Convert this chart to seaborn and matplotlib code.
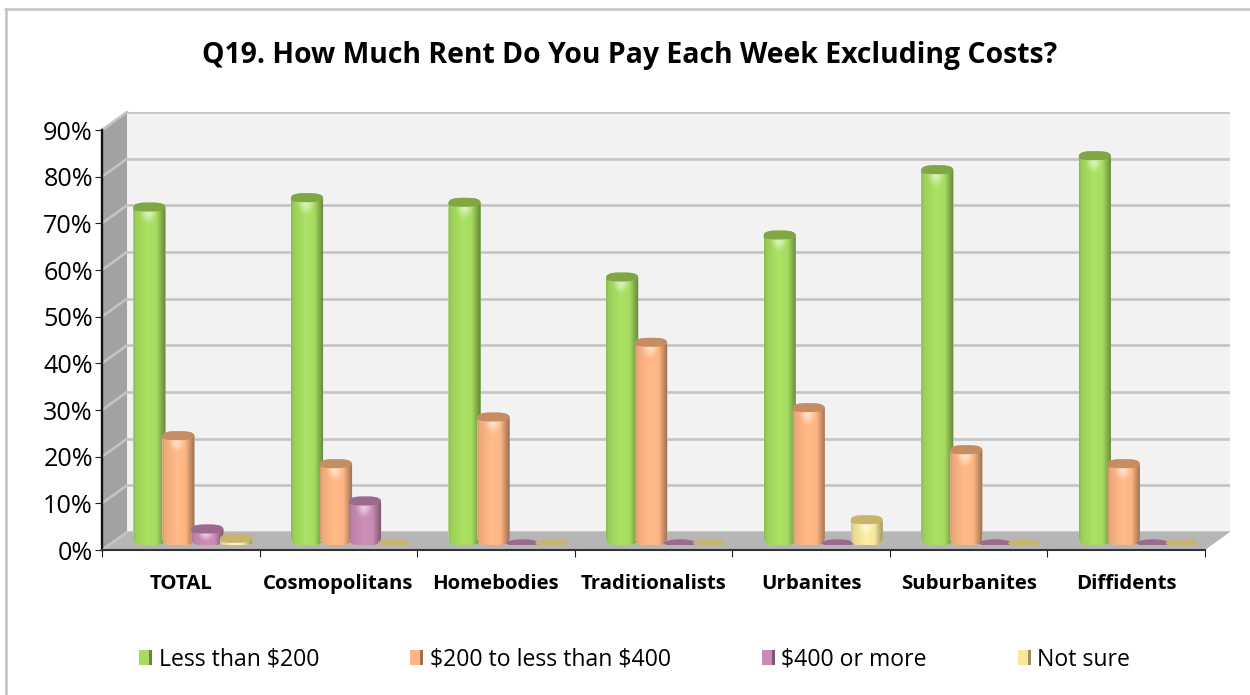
import numpy as np
import pandas as pd
import matplotlib
matplotlib.use("Agg")
import matplotlib.pyplot as plt
import seaborn as sns
from matplotlib.colors import to_rgb
from matplotlib.lines import Line2D
from matplotlib.patches import Polygon, PathPatch, Rectangle
from matplotlib.path import Path
from matplotlib.legend_handler import HandlerPatch

categories = ["TOTAL", "Cosmopolitans", "Homebodies", "Traditionalists", "Urbanites", "Suburbanites", "Diffidents"]
series_names = ["Less than $200", "$200 to less than $400", "$400 or more", "Not sure"]
less_200 = [72, 74, 73, 57, 66, 80, 83]
from_200_to_400 = [23, 17, 27, 43, 29, 20, 17]
over_400 = [3, 9, 0, 0, 0, 0, 0]
not_sure = [1, 0, 0, 0, 5, 0, 0]
colors = ["#A6DC60", "#FDB583", "#C98BB3", "#F8E79C"]
cap_colors = ["#7FA845", "#C68C62", "#9C6A8E", "#C9B46C"]
y_ticks = [0, 10, 20, 30, 40, 50, 60, 70, 80, 90]

W, H = 1250, 695
sns.set_theme(style="white")
plt.rcParams["font.family"] = ["Open Sans", "DejaVu Sans"]
plt.rcParams["text.parse_math"] = False
fig = plt.figure(figsize=(W / 100, H / 100), dpi=100, facecolor="white")


def box(x0, x1, ytop, ybot):
    return [x0 / W, 1 - ybot / H, (x1 - x0) / W, (ybot - ytop) / H]


def pxy(x, y):
    return (x / W, 1 - y / H)


# back wall
ax_back = fig.add_axes(box(127, 1230, 112, 532), zorder=0)
ax_back.set_facecolor("#F2F2F2")
ax_back.set_ylim(0, 90)
ax_back.set_xlim(0, 1)
ax_back.set_xticks([])
ax_back.set_yticks(y_ticks)
ax_back.set_yticklabels([])
ax_back.tick_params(left=False)
ax_back.grid(axis="y", color="#C4C4C4", lw=1.9)
for s in ax_back.spines.values():
    s.set_visible(False)

tf = fig.transFigure
ax_back.add_patch(Polygon([pxy(102, 130), pxy(127, 112), pxy(127, 532), pxy(102, 550)], closed=True,
                          transform=tf, fc="#A2A2A2", ec="none", clip_on=False, zorder=3))
ax_back.add_patch(Polygon([pxy(102, 550), pxy(127, 532), pxy(1230, 532), pxy(1205, 550)], closed=True,
                          transform=tf, fc="#B6B6B6", ec="none", clip_on=False, zorder=3))
for t in y_ticks:
    yf = 550 - t * 420 / 90
    ax_back.add_line(Line2D([102 / W, 127 / W], [1 - yf / H, 1 - (yf - 18) / H], transform=tf,
                            color="#C4C4C4", lw=1.9, clip_on=False, zorder=4))

# front axis: ticks and labels
ax_front = fig.add_axes(box(102, 1205, 130, 550), zorder=1)
ax_front.patch.set_alpha(0)
ax_front.set_xlim(-0.5, 6.5)
ax_front.set_ylim(0, 90)
ax_front.set_yticks(y_ticks)
ax_front.set_yticklabels([f"{t}%" for t in y_ticks], fontsize=18.2, color="black")
ax_front.set_xticks(range(len(categories)))
ax_front.set_xticklabels(categories, fontsize=14.7, fontweight="bold", color="black")
ax_front.set_xticks(np.arange(-0.5, 7, 1), minor=True)
ax_front.tick_params(axis="x", which="major", length=0, pad=17.5)
ax_front.tick_params(axis="x", which="minor", length=5, width=0.8, color="#222222", bottom=True)
ax_front.tick_params(axis="y", length=5, width=0.8, color="#222222", left=True, pad=1.5)
for side in ("top", "right"):
    ax_front.spines[side].set_visible(False)
ax_front.spines["left"].set_color("#111111")
ax_front.spines["left"].set_linewidth(1.7)
ax_front.spines["bottom"].set_color("#333333")
ax_front.spines["bottom"].set_linewidth(1.5)

# bars
df = pd.DataFrame({"category": categories, series_names[0]: less_200, series_names[1]: from_200_to_400,
                   series_names[2]: over_400, series_names[3]: not_sure})
long_df = df.melt(id_vars="category", var_name="series", value_name="value")
ax = fig.add_axes(box(114, 1217, 125, 545), zorder=2)
ax.patch.set_alpha(0)
sns.barplot(data=long_df, x="category", y="value", hue="series", hue_order=series_names, order=categories,
            palette=colors, width=116 / 157.57, gap=0, saturation=1, legend=False, errorbar=None, ax=ax)
ax.set_xlim(-0.5, 6.5)
ax.set_ylim(0, 90)
ax.axis("off")

PXX = 7 / 1103  # data units per px, horizontal
PXY = 90 / 420  # data units per px, vertical


def superellipse(cx, cy, rx, ry, a0, a1, n=30, p=3.0):
    t = np.linspace(a0, a1, n)
    c, s = np.cos(t), np.sin(t)
    return np.c_[cx + rx * np.sign(c) * np.abs(c) ** (2 / p), cy + ry * np.sign(s) * np.abs(s) ** (2 / p)]


def bar_outline(x0, x1, top, bottom=0.0):
    rx = (x1 - x0) / 2
    cx = (x0 + x1) / 2
    r = 8 * PXX
    rv = min(8 * PXY, max(top - bottom, 0.01) * 0.45)
    upper = superellipse(cx, top, rx, 6.5 * PXY, 0, np.pi)
    lower_l = superellipse(x0 + r, bottom + rv, r, rv, np.pi, 1.5 * np.pi, 10, 2.2)
    lower_r = superellipse(x1 - r, bottom + rv, r, rv, 1.5 * np.pi, 2 * np.pi, 10, 2.2)
    return np.vstack([upper, lower_l, lower_r])


def closed_path(pts):
    return Path(np.vstack([pts, pts[0]]), closed=True)


def gradient(rgb):
    u = np.linspace(0, 1, 64)
    shade = np.interp(u, [0, 0.08, 0.45, 0.72, 0.86, 1], [0.84, 0.94, 1.03, 1.0, 0.8, 0.6])
    return np.clip(np.outer(shade, rgb), 0, 1)[None, :, :]


rgb_list = [np.array(to_rgb(c)) for c in colors]
z = 5
for p in list(ax.patches):
    x0, w, h = p.get_x(), p.get_width(), p.get_height()
    if np.isnan(h):
        continue
    base = np.array(to_rgb(p.get_facecolor()))
    idx = int(np.argmin([np.abs(c - base).sum() for c in rgb_list]))
    cap = cap_colors[idx]
    xl, xr = x0 - 1.5 * PXX, x0 + w + 1.7 * PXX
    if h == 0:
        pts = superellipse((xl + xr) / 2, 2 * PXY, (xr - xl) / 2, 3.7 * PXY, 0, 2 * np.pi, 50, 2.0)
        ax.add_patch(PathPatch(closed_path(pts), fc=cap, ec="none", zorder=z))
        z += 1
        continue
    p.set_x(xl)
    p.set_width(xr - xl)
    p.set_zorder(z)
    outline = PathPatch(closed_path(bar_outline(xl, xr, h)), transform=ax.transData, fc="none", ec="none", zorder=z)
    ax.add_patch(outline)
    p.set_clip_path(outline)
    img = ax.imshow(gradient(base), extent=(xl, xr, 0, h + 7 * PXY), aspect="auto",
                    zorder=z + 0.1, interpolation="bilinear")
    img.set_clip_path(outline)
    # soft glow beneath the top
    gy, gx = np.mgrid[-1:1:40j, -1:1:40j]
    glow = np.zeros((40, 40, 4))
    glow[..., :3] = 1
    glow[..., 3] = 0.55 * np.clip(1 - (gx ** 2 + gy ** 2), 0, 1) ** 2
    cx = (xl + xr) / 2 - 1 * PXX
    gh = min(14 * PXY, h * 0.6)
    im2 = ax.imshow(glow, extent=(cx - 10 * PXX, cx + 10 * PXX, h - 3 * PXY - gh, h - 3 * PXY + gh), aspect="auto",
                    zorder=z + 0.2, interpolation="bilinear")
    im2.set_clip_path(outline)
    cap_top = superellipse((xl + xr) / 2, h, (xr - xl) / 2, 6.5 * PXY, 0, np.pi)
    cap_low = superellipse((xl + xr) / 2 - 1 * PXX, h, (xr - xl) / 2 - 1 * PXX, 2.5 * PXY, np.pi, 2 * np.pi, 30, 2.4)
    ax.add_patch(PathPatch(closed_path(np.vstack([cap_top, cap_low])), fc=cap, ec="none", zorder=z + 0.3))
    z += 1
ax.set_xlim(-0.5, 6.5)
ax.set_ylim(0, 90)


class TwoTone(HandlerPatch):
    def create_artists(self, legend, orig, xd, yd, width, height, fontsize, trans):
        fc = orig.get_facecolor()
        dark = np.array(to_rgb(fc)) * 0.62
        a = Rectangle((-xd, -yd), width * 0.75, height, fc=fc, ec="none", transform=trans)
        b = Rectangle((-xd + width * 0.75, -yd), width * 0.25, height, fc=dark, ec="none", transform=trans)
        return [a, b]


handles = [Rectangle((0, 0), 1, 1, fc=c) for c in colors]
leg = ax.legend(handles, series_names, loc="center left", bbox_to_anchor=pxy(139, 659.5), bbox_transform=tf,
                ncol=4, frameon=False, fontsize=16.6, borderpad=0, borderaxespad=0, handlelength=0.58,
                handleheight=0.58, handletextpad=0.27, columnspacing=3.95, labelcolor="black",
                handler_map={Rectangle: TwoTone()})

fig.text(630 / W, 1 - 55.5 / H, "Q19. How Much Rent Do You Pay Each Week Excluding Costs?", ha="center", va="center",
         fontsize=20.4, fontweight="bold", color="black")

# outer frame
fig.add_artist(Line2D([6 / W, 6 / W], [0, 1 - 9 / H], color="#C2C2C2", lw=1.8))
fig.add_artist(Line2D([5 / W, 1], [1 - 9 / H, 1 - 9 / H], color="#C2C2C2", lw=1.8))

fig.savefig("out.png", dpi=100, facecolor="white")
